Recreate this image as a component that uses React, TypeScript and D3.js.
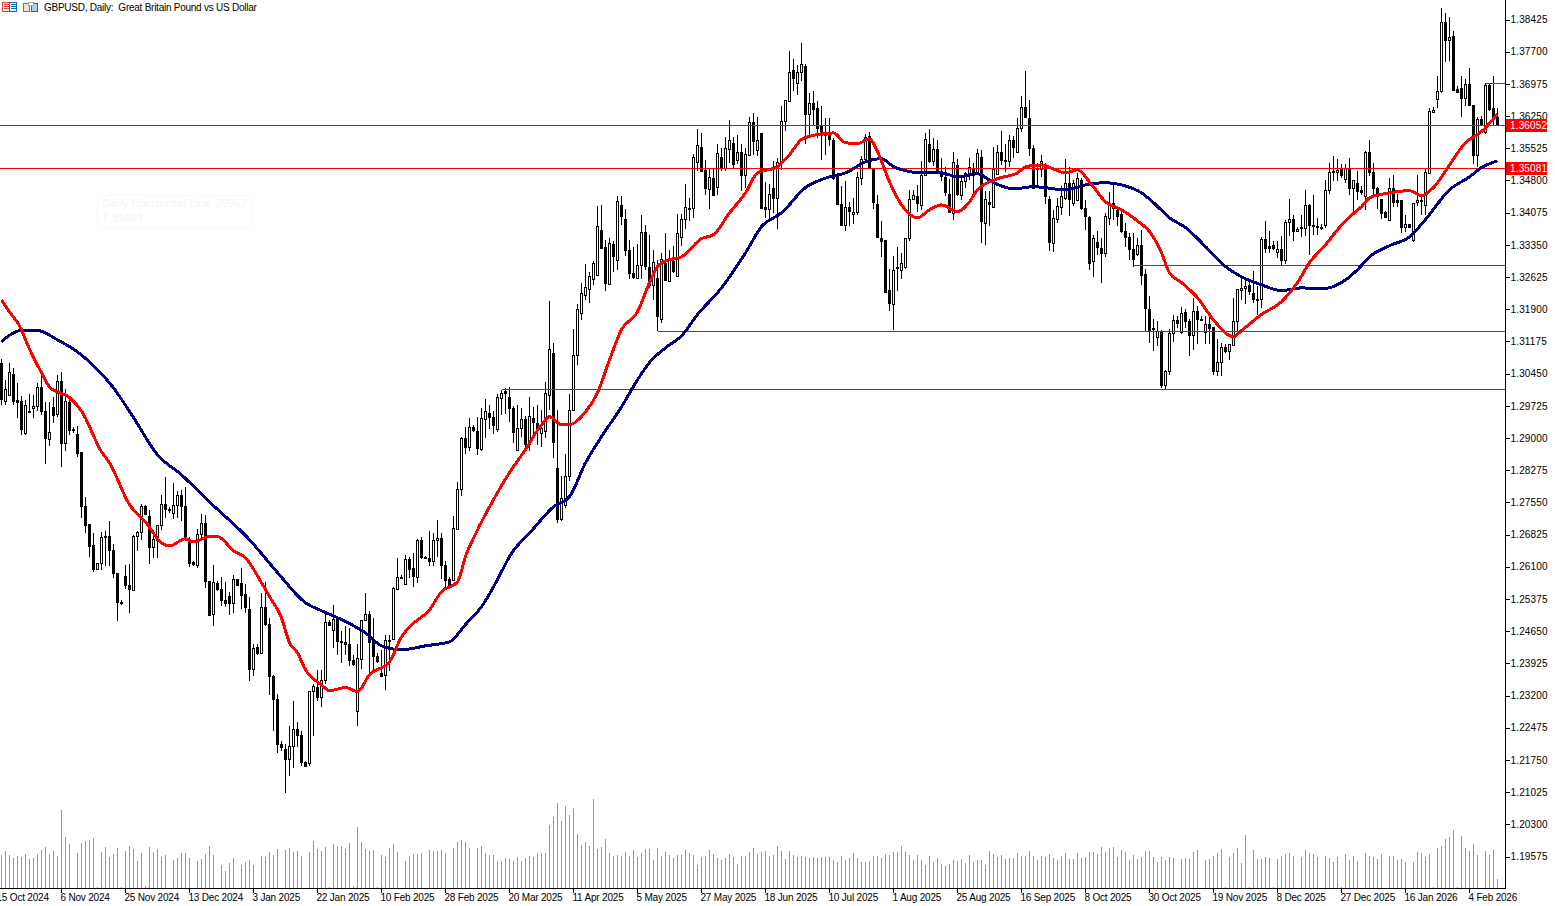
import { useEffect, useRef } from 'react';
import * as d3 from 'd3';

// All prices below are in 1/10000 of a dollar
const opens = [
    13068, 12984, 12997, 13044, 12986, 12984, 12912, 12961, 12968, 12971,
    13014, 12961, 12898, 12970, 12954, 13028, 12888, 12982, 12921, 12909,
    12869, 12747, 12706, 12659, 12606, 12618, 12679, 12679, 12648, 12596,
    12531, 12589, 12569, 12558, 12679, 12688, 12747, 12724, 12654, 12671,
    12704, 12751, 12740, 12730, 12749, 12771, 12747, 12668, 12620, 12613,
    12683, 12709, 12578, 12504, 12574, 12560, 12535, 12544, 12528, 12582,
    12574, 12549, 12515, 12380, 12429, 12416, 12520, 12482, 12364, 12312,
    12210, 12200, 12178, 12207, 12245, 12231, 12171, 12168, 12330, 12340,
    12316, 12355, 12486, 12468, 12493, 12443, 12441, 12436, 12400, 12285,
    12403, 12491, 12504, 12442, 12410, 12371, 12367, 12444, 12448, 12560,
    12585, 12571, 12628, 12607, 12586, 12671, 12633, 12630, 12622, 12670,
    12675, 12615, 12582, 12581, 12695, 12786, 12900, 12880, 12925, 12916,
    12875, 12943, 12956, 12947, 12920, 12990, 13005, 12992, 12967, 12873,
    12923, 12943, 12887, 12945, 12934, 12912, 12915, 12997, 13091, 12833,
    12717, 12749, 12814, 12962, 13087, 13181, 13221, 13236, 13258, 13267,
    13368, 13330, 13246, 13337, 13301, 13424, 13393, 13323, 13271, 13260,
    13289, 13364, 13285, 13244, 13260, 13168, 13294, 13253, 13298, 13264,
    13353, 13393, 13417, 13418, 13521, 13556, 13503, 13460, 13486, 13465,
    13533, 13508, 13551, 13564, 13525, 13544, 13493, 13538, 13612, 13549,
    13587, 13420, 13415, 13462, 13441, 13519, 13613, 13658, 13729, 13699,
    13724, 13738, 13630, 13654, 13643, 13604, 13587, 13583, 13570, 13489,
    13428, 13379, 13420, 13405, 13408, 13486, 13529, 13581, 13506, 13426,
    13351, 13345, 13234, 13201, 13283, 13279, 13286, 13350, 13438, 13445,
    13425, 13493, 13562, 13523, 13550, 13502, 13487, 13450, 13407, 13515,
    13448, 13478, 13495, 13509, 13495, 13532, 13385, 13431, 13421, 13495,
    13544, 13524, 13523, 13570, 13545, 13598, 13646, 13620, 13553, 13505,
    13505, 13517, 13438, 13339, 13393, 13421, 13440, 13474, 13429, 13437,
    13480, 13418, 13398, 13298, 13341, 13328, 13316, 13395, 13430, 13414,
    13405, 13367, 13352, 13325, 13314, 13335, 13270, 13191, 13148, 13128,
    13140, 13019, 13051, 13137, 13166, 13138, 13184, 13163, 13132, 13187,
    13167, 13139, 13156, 13150, 13051, 13072, 13106, 13096, 13109, 13164,
    13234, 13237, 13244, 13226, 13212, 13214, 13349, 13332, 13334, 13318,
    13326, 13300, 13387, 13394, 13366, 13373, 13373, 13425, 13380, 13378,
    13376, 13379, 13459, 13501, 13499, 13505, 13484, 13507, 13463, 13474,
    13458, 13446, 13544, 13499, 13463, 13438, 13408, 13391, 13463, 13435,
    13435, 13375, 13381, 13347, 13431, 13437, 13424, 13497, 13634, 13663,
    13681, 13837, 13797, 13806, 13686, 13688, 13666, 13697, 13651, 13538,
    13619, 13589, 13696, 13644, 13623,
];

const closes = [
    12987, 13010, 13048, 12984, 12982, 12921, 12975, 12958, 12972, 13014,
    12960, 12899, 12913, 12952, 13028, 12888, 12984, 12919, 12918, 12867,
    12747, 12704, 12657, 12606, 12618, 12677, 12676, 12647, 12596, 12530,
    12528, 12568, 12560, 12679, 12688, 12747, 12728, 12654, 12673, 12703,
    12751, 12740, 12737, 12749, 12771, 12747, 12677, 12618, 12617, 12683,
    12709, 12577, 12502, 12576, 12560, 12535, 12529, 12528, 12582, 12570,
    12546, 12519, 12380, 12427, 12416, 12519, 12480, 12364, 12312, 12210,
    12204, 12177, 12207, 12245, 12231, 12170, 12161, 12330, 12341, 12316,
    12355, 12486, 12479, 12492, 12442, 12440, 12436, 12400, 12390, 12405,
    12491, 12504, 12441, 12409, 12397, 12365, 12446, 12446, 12562, 12587,
    12588, 12627, 12606, 12589, 12671, 12632, 12630, 12622, 12671, 12674,
    12615, 12581, 12570, 12697, 12785, 12900, 12880, 12925, 12917, 12877,
    12945, 12961, 12947, 12929, 12992, 13002, 13001, 12967, 12914, 12923,
    12943, 12887, 12949, 12936, 12919, 12923, 13002, 13100, 12890, 12717,
    12765, 12815, 12964, 13087, 13190, 13226, 13240, 13265, 13294, 13377,
    13329, 13248, 13339, 13309, 13433, 13399, 13323, 13271, 13263, 13290,
    13364, 13288, 13244, 13296, 13174, 13304, 13255, 13302, 13276, 13362,
    13394, 13420, 13419, 13533, 13559, 13501, 13462, 13488, 13448, 13542,
    13510, 13553, 13570, 13518, 13544, 13493, 13540, 13612, 13568, 13572,
    13418, 13415, 13450, 13441, 13522, 13615, 13662, 13724, 13711, 13724,
    13743, 13630, 13654, 13641, 13598, 13583, 13582, 13574, 13486, 13426,
    13379, 13420, 13412, 13409, 13488, 13529, 13579, 13508, 13432, 13352,
    13343, 13229, 13204, 13279, 13284, 13294, 13351, 13438, 13447, 13430,
    13493, 13573, 13524, 13550, 13500, 13490, 13455, 13408, 13521, 13450,
    13478, 13497, 13510, 13493, 13541, 13388, 13438, 13428, 13505, 13544,
    13525, 13526, 13570, 13556, 13598, 13645, 13622, 13553, 13464, 13509,
    13523, 13444, 13341, 13395, 13423, 13445, 13474, 13438, 13474, 13485,
    13418, 13401, 13295, 13350, 13331, 13316, 13400, 13430, 13418, 13401,
    13367, 13352, 13325, 13303, 13334, 13266, 13192, 13144, 13145, 13140,
    13019, 13052, 13137, 13165, 13160, 13182, 13163, 13132, 13187, 13167,
    13168, 13156, 13147, 13051, 13072, 13106, 13096, 13111, 13164, 13236,
    13238, 13242, 13232, 13212, 13214, 13349, 13328, 13329, 13327, 13325,
    13300, 13387, 13394, 13366, 13371, 13375, 13424, 13379, 13378, 13376,
    13373, 13459, 13499, 13499, 13504, 13492, 13507, 13463, 13481, 13456,
    13455, 13544, 13499, 13463, 13446, 13406, 13398, 13463, 13431, 13431,
    13375, 13381, 13375, 13429, 13435, 13433, 13498, 13637, 13639, 13682,
    13837, 13797, 13804, 13683, 13679, 13666, 13697, 13649, 13538, 13619,
    13607, 13696, 13642, 13623, 13604,
];

const highs = [
    13078, 13031, 13070, 13057, 13023, 12994, 12986, 12999, 12997, 13023,
    13046, 12982, 12982, 12992, 13042, 13048, 13010, 12986, 12924, 12927,
    12869, 12768, 12706, 12687, 12618, 12688, 12690, 12714, 12661, 12597,
    12536, 12615, 12617, 12681, 12691, 12751, 12750, 12737, 12692, 12705,
    12772, 12812, 12744, 12798, 12780, 12783, 12789, 12678, 12624, 12695,
    12729, 12727, 12579, 12615, 12577, 12587, 12576, 12553, 12592, 12582,
    12607, 12571, 12542, 12436, 12436, 12551, 12575, 12495, 12367, 12324,
    12217, 12210, 12251, 12307, 12261, 12240, 12172, 12330, 12347, 12377,
    12377, 12505, 12491, 12525, 12500, 12465, 12477, 12472, 12412, 12437,
    12491, 12551, 12510, 12495, 12416, 12423, 12457, 12457, 12564, 12630,
    12592, 12637, 12632, 12640, 12672, 12678, 12635, 12690, 12686, 12716,
    12686, 12624, 12587, 12725, 12800, 12903, 12925, 12945, 12930, 12947,
    12968, 12988, 12975, 12960, 12998, 13009, 13013, 13015, 12971, 12975,
    12968, 12949, 12992, 12970, 12975, 12964, 13026, 13209, 13114, 12964,
    12815, 12864, 12998, 13145, 13202, 13250, 13292, 13274, 13298, 13423,
    13425, 13347, 13350, 13343, 13445, 13445, 13416, 13347, 13330, 13337,
    13403, 13380, 13358, 13324, 13301, 13316, 13362, 13323, 13332, 13405,
    13405, 13471, 13441, 13540, 13595, 13587, 13525, 13508, 13508, 13561,
    13552, 13579, 13617, 13579, 13583, 13561, 13552, 13623, 13632, 13623,
    13587, 13477, 13471, 13523, 13531, 13648, 13662, 13772, 13754, 13741,
    13790, 13743, 13677, 13681, 13660, 13648, 13621, 13621, 13576, 13492,
    13468, 13478, 13432, 13441, 13499, 13534, 13585, 13589, 13508, 13448,
    13388, 13345, 13281, 13311, 13330, 13317, 13351, 13459, 13459, 13470,
    13523, 13587, 13595, 13575, 13571, 13530, 13510, 13483, 13543, 13528,
    13489, 13500, 13530, 13519, 13550, 13549, 13457, 13457, 13555, 13560,
    13592, 13562, 13583, 13580, 13620, 13670, 13727, 13662, 13560, 13520,
    13538, 13519, 13444, 13414, 13440, 13467, 13528, 13510, 13481, 13496,
    13485, 13437, 13399, 13358, 13367, 13350, 13406, 13455, 13470, 13421,
    13414, 13385, 13361, 13361, 13350, 13369, 13281, 13219, 13167, 13163,
    13143, 13054, 13145, 13178, 13175, 13196, 13190, 13167, 13216, 13198,
    13175, 13175, 13178, 13150, 13123, 13113, 13111, 13111, 13216, 13236,
    13265, 13259, 13251, 13276, 13242, 13353, 13388, 13366, 13343, 13343,
    13354, 13390, 13438, 13403, 13376, 13403, 13458, 13428, 13448, 13396,
    13383, 13480, 13519, 13536, 13528, 13516, 13516, 13531, 13482, 13501,
    13467, 13546, 13570, 13519, 13465, 13438, 13411, 13486, 13493, 13450,
    13435, 13403, 13383, 13429, 13492, 13445, 13506, 13643, 13646, 13715,
    13868, 13857, 13849, 13816, 13692, 13716, 13709, 13733, 13651, 13623,
    13625, 13699, 13698, 13715, 13643,
];

const lows = [
    12975, 12975, 12994, 12975, 12945, 12907, 12907, 12956, 12945, 12960,
    12952, 12842, 12882, 12933, 12947, 12834, 12870, 12907, 12911, 12857,
    12720, 12687, 12633, 12598, 12603, 12603, 12612, 12611, 12585, 12487,
    12523, 12560, 12507, 12557, 12645, 12671, 12726, 12617, 12630, 12630,
    12692, 12720, 12732, 12717, 12720, 12712, 12667, 12609, 12611, 12607,
    12671, 12562, 12500, 12476, 12555, 12521, 12519, 12501, 12506, 12566,
    12516, 12506, 12352, 12363, 12412, 12414, 12477, 12321, 12240, 12191,
    12195, 12101, 12138, 12157, 12205, 12161, 12159, 12161, 12230, 12307,
    12295, 12345, 12477, 12426, 12412, 12393, 12412, 12386, 12386, 12251,
    12380, 12490, 12367, 12371, 12393, 12365, 12333, 12375, 12446, 12558,
    12582, 12570, 12585, 12564, 12573, 12628, 12628, 12611, 12611, 12633,
    12583, 12560, 12566, 12577, 12694, 12769, 12865, 12870, 12913, 12861,
    12870, 12900, 12921, 12910, 12913, 12951, 12955, 12936, 12888, 12873,
    12902, 12878, 12870, 12900, 12885, 12879, 12899, 12964, 12855, 12709,
    12713, 12743, 12803, 12960, 13064, 13165, 13211, 13203, 13245, 13265,
    13325, 13232, 13245, 13273, 13279, 13380, 13309, 13259, 13259, 13259,
    13258, 13279, 13238, 13211, 13140, 13160, 13253, 13251, 13272, 13263,
    13333, 13370, 13388, 13396, 13501, 13498, 13448, 13415, 13446, 13448,
    13501, 13501, 13520, 13508, 13518, 13456, 13463, 13538, 13538, 13534,
    13415, 13396, 13388, 13407, 13370, 13503, 13591, 13658, 13682, 13673,
    13703, 13561, 13576, 13602, 13576, 13525, 13538, 13557, 13480, 13424,
    13378, 13366, 13377, 13381, 13403, 13469, 13527, 13505, 13415, 13351,
    13308, 13229, 13186, 13143, 13231, 13259, 13281, 13343, 13435, 13410,
    13414, 13490, 13520, 13513, 13496, 13478, 13445, 13407, 13390, 13444,
    13435, 13463, 13481, 13444, 13493, 13340, 13334, 13377, 13420, 13493,
    13515, 13500, 13511, 13530, 13541, 13590, 13620, 13534, 13463, 13466,
    13487, 13427, 13322, 13320, 13385, 13403, 13435, 13401, 13423, 13435,
    13414, 13369, 13279, 13262, 13313, 13249, 13307, 13380, 13391, 13377,
    13361, 13331, 13301, 13286, 13309, 13245, 13142, 13115, 13097, 13108,
    13013, 13007, 13043, 13116, 13148, 13135, 13148, 13085, 13099, 13111,
    13163, 13111, 13111, 13043, 13040, 13040, 13092, 13076, 13107, 13141,
    13210, 13201, 13223, 13205, 13178, 13193, 13317, 13317, 13323, 13306,
    13289, 13291, 13354, 13343, 13363, 13353, 13354, 13313, 13358, 13358,
    13369, 13373, 13450, 13478, 13478, 13486, 13474, 13448, 13411, 13437,
    13448, 13413, 13489, 13443, 13415, 13394, 13396, 13390, 13420, 13420,
    13362, 13363, 13373, 13342, 13422, 13403, 13403, 13495, 13632, 13643,
    13677, 13747, 13748, 13681, 13677, 13623, 13647, 13647, 13516, 13510,
    13603, 13585, 13636, 13606, 13603,
];

// Tick volume, arbitrary units
const volumes = [
    100, 112, 100, 91, 97, 94, 103, 88, 91, 103,
    115, 124, 103, 112, 97, 235, 154, 133, 0, 106,
    136, 142, 145, 151, 3, 109, 124, 94, 103, 121,
    3, 112, 127, 118, 82, 106, 7, 124, 109, 118,
    94, 100, 0, 85, 91, 106, 106, 91, 0, 82,
    88, 103, 127, 100, 0, 70, 52, 76, 91, 0,
    70, 79, 85, 70, 0, 97, 94, 109, 100, 118,
    0, 115, 121, 109, 112, 97, 0, 109, 142, 118,
    112, 124, 3, 133, 124, 127, 118, 136, 7, 184,
    139, 118, 112, 115, 3, 100, 94, 121, 133, 109,
    0, 82, 97, 103, 103, 106, 0, 115, 112, 112,
    115, 106, 0, 121, 139, 145, 139, 121, 0, 121,
    127, 106, 100, 100, 82, 82, 91, 88, 82, 94,
    82, 91, 97, 94, 106, 106, 106, 190, 214, 256,
    202, 247, 220, 241, 163, 130, 139, 127, 268, 118,
    124, 148, 106, 97, 100, 97, 109, 97, 115, 94,
    106, 118, 118, 85, 121, 97, 109, 100, 91, 100,
    100, 115, 106, 100, 70, 94, 97, 115, 103, 91,
    85, 91, 103, 94, 73, 97, 97, 109, 121, 103,
    109, 112, 97, 100, 127, 112, 88, 112, 100, 94,
    97, 94, 91, 94, 91, 94, 94, 94, 85, 79,
    97, 85, 91, 106, 91, 79, 79, 82, 97, 97,
    91, 103, 100, 109, 109, 127, 109, 100, 85, 100,
    85, 70, 97, 79, 91, 73, 67, 73, 85, 82,
    88, 76, 100, 79, 85, 85, 70, 112, 103, 94,
    100, 88, 91, 91, 106, 97, 97, 112, 97, 85,
    97, 94, 103, 91, 85, 97, 106, 88, 88, 106,
    91, 94, 109, 109, 103, 124, 109, 121, 124, 94,
    115, 109, 85, 100, 88, 94, 112, 112, 94, 79,
    94, 85, 94, 91, 0, 88, 91, 88, 109, 115,
    0, 85, 88, 97, 106, 118, 3, 94, 106, 121,
    76, 160, 3, 115, 88, 88, 94, 91, 3, 88,
    97, 103, 106, 97, 0, 94, 115, 106, 103, 94,
    0, 97, 91, 79, 94, 3, 103, 85, 97, 82,
    0, 106, 97, 94, 88, 103, 0, 97, 97, 85,
    88, 79, 0, 79, 109, 106, 94, 103, 3, 121,
    127, 148, 154, 175, 3, 157, 121, 112, 133, 100,
    0, 112, 100, 115, 28,
];

// Moving averages, sampled at the bars where they bend
const fastMaBars = [
    0, 2, 5, 6, 10, 12, 17, 20, 25, 27, 32, 36, 40, 42, 46, 48, 52, 54, 58, 61, 65, 67, 70, 72, 74, 76, 80, 82, 86, 89,
    92, 97, 100, 102, 107, 110, 114, 116, 119, 123, 127, 131, 135, 137, 140, 142, 146, 149, 152, 155, 159, 162, 164, 166, 170, 175, 178, 182, 186, 189,
    194, 197, 200, 205, 208, 211, 214, 217, 219, 222, 225, 229, 232, 235, 239, 242, 244, 249, 254, 256, 260, 263, 266, 269, 272, 276, 280, 284, 287, 290,
    292, 295, 299, 303, 308, 310, 315, 320, 324, 327, 331, 334, 337, 340, 342, 347, 352, 355, 358, 362, 366, 370, 374,
];
const fastMa = [
    13211, 13184, 13144, 13121, 13047, 13015, 12991, 12961, 12869, 12844, 12750, 12711, 12664, 12657, 12673, 12666, 12678, 12678, 12646, 12630, 12574, 12543, 12495, 12439, 12416, 12378, 12344, 12331, 12338, 12329,
    12367, 12396, 12452, 12475, 12513, 12554, 12576, 12633, 12693, 12761, 12822, 12874, 12930, 12948, 12930, 12930, 12959, 13002, 13076, 13144, 13184, 13250, 13286, 13299, 13308, 13349, 13358, 13407, 13452, 13497,
    13511, 13538, 13572, 13585, 13587, 13565, 13563, 13574, 13545, 13477, 13425, 13396, 13414, 13425, 13410, 13432, 13459, 13484, 13497, 13511, 13515, 13506, 13497, 13504, 13477, 13432, 13414, 13389, 13365, 13317,
    13272, 13250, 13216, 13166, 13128, 13142, 13178, 13207, 13250, 13295, 13335, 13369, 13398, 13421, 13441, 13452, 13457, 13446, 13464, 13515, 13565, 13590, 13630,
];
const slowMaBars = [
    0, 5, 9, 14, 19, 24, 28, 33, 39, 45, 52, 62, 69, 76, 80, 85, 91, 95, 100, 106, 112, 116, 120, 124, 127, 133, 138, 142, 146, 150,
    155, 159, 162, 166, 170, 174, 180, 186, 190, 195, 201, 207, 211, 216, 220, 223, 226, 230, 235, 239, 244, 248, 253, 258, 266, 271, 276, 280, 285, 288,
    292, 296, 301, 306, 310, 315, 320, 325, 330, 335, 339, 342, 347, 352, 356, 362, 367, 370, 374,
];
const slowMa = [
    13117, 13142, 13142, 13121, 13094, 13054, 13013, 12946, 12862, 12817, 12756, 12671, 12597, 12529, 12511, 12491, 12461, 12432, 12423, 12432, 12441, 12480, 12520, 12581, 12633, 12696, 12745, 12768, 12844, 12903,
    12970, 13031, 13070, 13103, 13130, 13178, 13238, 13317, 13376, 13407, 13464, 13488, 13497, 13522, 13529, 13511, 13502, 13497, 13497, 13488, 13495, 13475, 13461, 13466, 13459, 13470, 13475, 13470, 13452, 13430,
    13396, 13374, 13331, 13286, 13263, 13245, 13232, 13238, 13236, 13250, 13279, 13308, 13333, 13353, 13392, 13459, 13488, 13509, 13524,
];

const hLineLevels = [13604, 13507, 13288, 13140, 13010, 13699];
const hLineStartBars = [-1, -1, 283, 164, 125, 371];

const priceTicks = [
    1.38425, 1.377, 1.36975, 1.3625, 1.35525, 1.348, 1.34075, 1.3335, 1.32625, 1.319, 1.31175, 1.3045, 1.29725, 1.29,
    1.28275, 1.2755, 1.26825, 1.261, 1.25375, 1.2465, 1.23925, 1.232, 1.22475, 1.2175, 1.21025, 1.203, 1.19575,
];
const priceTags = ['1.36052', '1.35081'];

const dateLabels = [
    '15 Oct 2024', '6 Nov 2024', '25 Nov 2024', '13 Dec 2024', '3 Jan 2025', '22 Jan 2025', '10 Feb 2025', '28 Feb 2025',
    '20 Mar 2025', '11 Apr 2025', '5 May 2025', '27 May 2025', '18 Jun 2025', '10 Jul 2025', '1 Aug 2025', '25 Aug 2025',
    '16 Sep 2025', '8 Oct 2025', '30 Oct 2025', '19 Nov 2025', '8 Dec 2025', '27 Dec 2025', '16 Jan 2026', '4 Feb 2026',
];
const DATE_STEP = 16;

const chartTitle = 'GBPUSD, Daily:  Great Britain Pound vs US Dollar';
const ghostLabel = ['Daily Horizontal Line 28962', '1.35081'];

const WIDTH = 1555;
const HEIGHT = 906;
const AXIS_X = 1505;
const BASE_Y = 888;
const FONT = '"Liberation Sans", Arial, sans-serif';

export default function App() {
    const svgRef = useRef<SVGSVGElement>(null);

    useEffect(() => {
        if (!svgRef.current) return;
        document.body.style.margin = '0';

        const svg = d3.select(svgRef.current);
        svg.selectAll('*').remove();

        const x = d3.scaleLinear().domain([0, 374]).range([1.5, 1497.5]);
        const yPrice = d3.scaleLinear().domain([1.19575, 1.38425]).range([856.5, 19.5]);
        const y = (v: number) => yPrice(v / 10000);
        const yVol = d3.scaleLinear().domain([0, 268]).range([BASE_Y, BASE_Y - 89.3]);

        // Faded label left behind on the chart
        const ghost = svg.append('g');
        ghost.append('rect')
            .attr('x', 97.5).attr('y', 195.5).attr('width', 154).attr('height', 32).attr('rx', 2)
            .attr('fill', '#fff').attr('stroke', '#f8f8f8');
        ghost.selectAll('text')
            .data(ghostLabel)
            .enter()
            .append('text')
            .attr('x', 102)
            .attr('y', (_, i) => 207 + i * 15)
            .attr('font-family', '"Noto Sans", sans-serif')
            .attr('font-size', '11.3px')
            .attr('fill', '#f6f2f4')
            .text(d => d);

        // Volume
        svg.append('g')
            .attr('shape-rendering', 'crispEdges')
            .selectAll('rect')
            .data(volumes)
            .enter()
            .append('rect')
            .attr('x', (_, i) => x(i) - 0.5)
            .attr('y', d => yVol(d))
            .attr('width', 1)
            .attr('height', d => BASE_Y - yVol(d))
            .attr('fill', '#d968dc');

        // Candles
        const candles = svg.append('g').attr('shape-rendering', 'crispEdges');
        const bars = opens.map((open, i) => ({ i, open, close: closes[i], high: highs[i], low: lows[i] }));

        candles.selectAll('line')
            .data(bars)
            .enter()
            .append('line')
            .attr('x1', d => x(d.i))
            .attr('x2', d => x(d.i))
            .attr('y1', d => Math.round(y(d.high)))
            .attr('y2', d => Math.round(y(d.low)))
            .attr('stroke', '#000');

        candles.selectAll('rect')
            .data(bars)
            .enter()
            .append('rect')
            .attr('x', d => x(d.i) - 1)
            .attr('y', d => Math.round(y(Math.max(d.open, d.close))) + 0.5)
            .attr('width', 2)
            .attr('height', d => Math.max(1, Math.round(y(Math.min(d.open, d.close))) - Math.round(y(Math.max(d.open, d.close)))))
            .attr('fill', d => (d.close > d.open ? '#fff' : '#000'))
            .attr('stroke', '#000');

        // Horizontal levels
        svg.append('g')
            .attr('shape-rendering', 'crispEdges')
            .selectAll('line')
            .data(hLineLevels)
            .enter()
            .append('line')
            .attr('x1', (_, i) => (hLineStartBars[i] < 0 ? 0 : x(hLineStartBars[i])))
            .attr('x2', AXIS_X)
            .attr('y1', d => Math.floor(y(d)) + 0.5)
            .attr('y2', d => Math.floor(y(d)) + 0.5)
            .attr('stroke', '#ff0000');

        // Moving averages
        const maLine = d3.line<number>()
            .x(d => x(d))
            .curve(d3.curveMonotoneX);

        svg.append('path')
            .attr('d', maLine.y((_, i) => y(slowMa[i]))(slowMaBars))
            .attr('fill', 'none')
            .attr('stroke', '#000080')
            .attr('stroke-width', 3)
            .attr('shape-rendering', 'crispEdges');

        svg.append('path')
            .attr('d', maLine.y((_, i) => y(fastMa[i]))(fastMaBars))
            .attr('fill', 'none')
            .attr('stroke', '#ff0000')
            .attr('stroke-width', 3)
            .attr('shape-rendering', 'crispEdges');

        // White mask under the axis areas
        svg.append('rect').attr('x', AXIS_X).attr('y', 0).attr('width', WIDTH - AXIS_X).attr('height', HEIGHT).attr('fill', '#fff');
        svg.append('rect').attr('x', 0).attr('y', BASE_Y).attr('width', WIDTH).attr('height', HEIGHT - BASE_Y).attr('fill', '#fff');

        // Price axis
        svg.append('g')
            .attr('transform', `translate(${AXIS_X + 0.5},0)`)
            .attr('shape-rendering', 'crispEdges')
            .call(d3.axisRight(yPrice).tickValues(priceTicks).tickFormat(d3.format('.5f') as any).tickSize(4).tickSizeOuter(0).tickPadding(1))
            .call(g => g.select('.domain').attr('d', `M0,0V${BASE_Y}`).attr('stroke', '#000'))
            .call(g => g.selectAll('.tick text')
                .attr('fill', '#000')
                .attr('font-family', FONT)
                .attr('font-size', '10px')
                .attr('letter-spacing', '0.15px'));

        // Date axis
        const dateScale = d3.scaleLinear().domain([0, dateLabels.length - 1]).range([x(-1), x(-1 + DATE_STEP * (dateLabels.length - 1))]);
        const dateAxis = svg.append('g').attr('transform', `translate(0,${BASE_Y + 0.5})`);
        dateAxis.append('line').attr('x1', 0).attr('x2', AXIS_X + 1).attr('stroke', '#000').attr('shape-rendering', 'crispEdges');
        const dateTicks = dateAxis.selectAll('g.date')
            .data(dateLabels)
            .enter()
            .append('g')
            .attr('class', 'date')
            .attr('transform', (_, i) => `translate(${dateScale(i)},0)`);
        dateTicks.append('line').attr('y2', 4).attr('stroke', '#000').attr('shape-rendering', 'crispEdges');
        dateTicks.append('text')
            .attr('x', -1)
            .attr('y', 12.5)
            .attr('font-family', FONT)
            .attr('font-size', '10px')
            .attr('letter-spacing', '-0.2px')
            .attr('fill', '#000')
            .text(d => d);

        // Current price tags
        const tags = svg.append('g')
            .selectAll('g')
            .data(priceTags)
            .enter()
            .append('g')
            .attr('transform', d => `translate(${AXIS_X + 1},${Math.round(yPrice(+d))})`);
        tags.append('rect').attr('x', 0).attr('y', -6).attr('width', 41).attr('height', 13).attr('fill', '#ff0000');
        tags.append('text')
            .attr('x', 4)
            .attr('y', 4)
            .attr('font-family', FONT)
            .attr('font-size', '10px')
            .attr('letter-spacing', '0.15px')
            .attr('fill', '#fff')
            .text(d => d);

        // Title icons and symbol text
        const icons = svg.append('g').attr('shape-rendering', 'crispEdges').attr('fill', 'none');
        icons.append('rect').attr('x', 2.5).attr('y', 2.5).attr('width', 7).attr('height', 9).attr('stroke', '#e8403a').attr('fill', '#fdeeee');
        icons.append('rect').attr('x', 9.5).attr('y', 2.5).attr('width', 7).attr('height', 9).attr('stroke', '#0a6cb4').attr('fill', '#eef6fc');
        [4.5, 6.5, 8.5].forEach(ly => {
            icons.append('line').attr('x1', 4).attr('x2', 9).attr('y1', ly).attr('y2', ly).attr('stroke', '#e8403a');
            icons.append('line').attr('x1', 11).attr('x2', 16).attr('y1', ly).attr('y2', ly).attr('stroke', '#0a6cb4');
        });
        icons.append('rect').attr('x', 23.5).attr('y', 3.5).attr('width', 6).attr('height', 8).attr('stroke', '#e8403a').attr('fill', '#fadcd8');
        icons.append('rect').attr('x', 31.5).attr('y', 3.5).attr('width', 6).attr('height', 8).attr('stroke', '#0a6cb4').attr('fill', '#a8d4f0');
        icons.append('rect').attr('x', 28.5).attr('y', 2.5).attr('width', 5).attr('height', 3).attr('stroke', '#aaaaaa').attr('fill', '#fff');

        svg.append('text')
            .attr('x', 44)
            .attr('y', 11)
            .attr('font-family', FONT)
            .attr('font-size', '10px')
            .attr('letter-spacing', '-0.25px')
            .attr('fill', '#000')
            .style('white-space', 'pre')
            .text(chartTitle);
    }, []);

    return (
        <svg ref={svgRef} width={WIDTH} height={HEIGHT} style={{ display: 'block', background: '#fff' }} />
    );
}
